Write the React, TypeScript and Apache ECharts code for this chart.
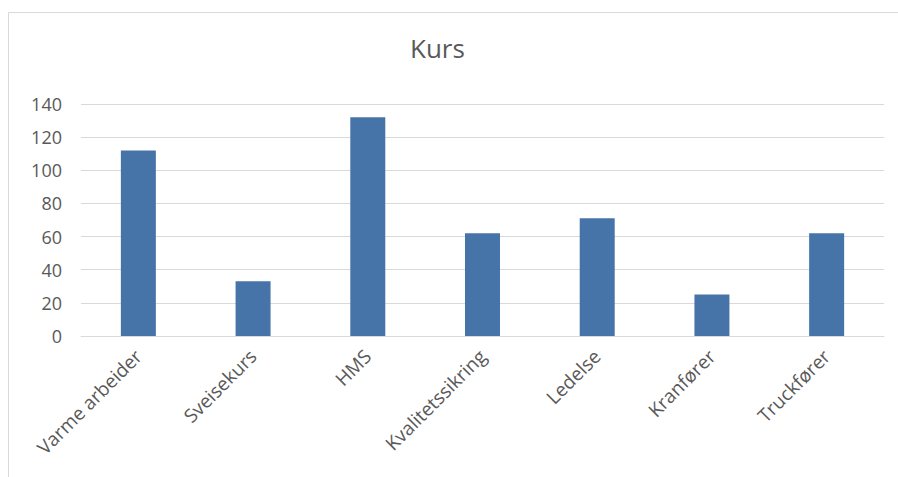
import React, { useEffect, useRef } from "react";
import * as echarts from "echarts";

const titleText = "Kurs";
const categories = [
  "Varme arbeider",
  "Sveisekurs",
  "HMS",
  "Kvalitetssikring",
  "Ledelse",
  "Kranfører",
  "Truckfører",
];
const values = [112, 33, 132, 62, 71, 25, 62];
const yMin = 0;
const yMax = 140;
const yInterval = 20;

export default function App() {
  const ref = useRef<HTMLDivElement>(null);
  useEffect(() => {
    if (!ref.current) return;
    const chart = echarts.init(ref.current, undefined, { renderer: "svg" });
    const font = "'Open Sans', 'Noto Sans', sans-serif";
    chart.setOption({
      animation: false,
      backgroundColor: "#ffffff",
      textStyle: { fontFamily: font },
      title: {
        text: titleText,
        left: 405,
        top: 30,
        textStyle: { color: "#595959", fontSize: 26, fontWeight: "normal", fontFamily: font },
      },
      graphic: [
        {
          type: "rect",
          shape: { x: 8.5, y: 12.5, width: 900, height: 480 },
          style: { fill: "none", stroke: "#d9d9d9", lineWidth: 1 },
          silent: true,
        },
      ],
      grid: { left: 81, right: 14, top: 104, bottom: 141, containLabel: false },
      xAxis: {
        type: "category",
        data: categories,
        axisLine: { show: true, lineStyle: { color: "#d9d9d9", width: 1 } },
        axisTick: { show: false },
        axisLabel: {
          rotate: 45,
          interval: 0,
          margin: 17,
          color: "#595959",
          fontSize: 19,
          fontFamily: font,
        },
      },
      yAxis: {
        type: "value",
        min: yMin,
        max: yMax,
        interval: yInterval,
        axisLine: { show: false },
        axisTick: { show: false },
        splitLine: { lineStyle: { color: "#d9d9d9", width: 1 } },
        axisLabel: { color: "#595959", fontSize: 18, margin: 19, fontFamily: font },
      },
      series: [
        {
          type: "bar",
          data: values,
          barWidth: 35,
          itemStyle: { color: "#4674a8" },
        },
      ],
    });
    return () => chart.dispose();
  }, []);
  return (
    <div
      ref={ref}
      style={{ position: "fixed", left: 0, top: 0, width: 898, height: 477 }}
    />
  );
}
